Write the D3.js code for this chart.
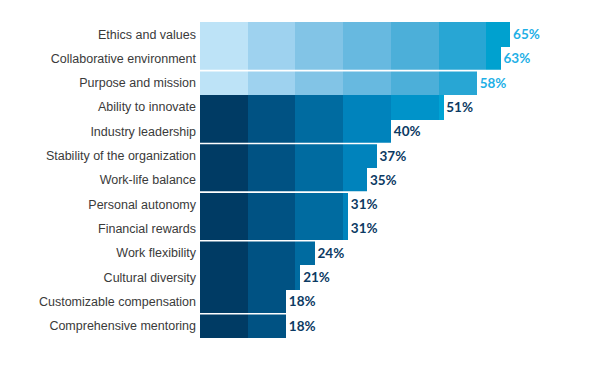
<!DOCTYPE html>
<html><head><meta charset="utf-8">
<script src="https://cdn.jsdelivr.net/npm/d3@7"></script>
<style>body{margin:0;background:#fff;}svg{display:block;}</style>
</head><body>
<svg id="chart" width="603" height="366"></svg>
<script>
const categories = ["Ethics and values","Collaborative environment","Purpose and mission","Ability to innovate","Industry leadership","Stability of the organization","Work-life balance","Personal autonomy","Financial rewards","Work flexibility","Cultural diversity","Customizable compensation","Comprehensive mentoring"];
const values = [65,63,58,51,40,37,35,31,31,24,21,18,18];
const groups = ["light","light","light","dark","dark","dark","dark","dark","dark","dark","dark","dark","dark"];
const bandEdges = [0,10,20,30,40,50,60,70];
const lightShades = ["#bde3f7","#9ed2ef","#82c4e6","#67b9e0","#4cafd9","#28a6d4","#00a1cf"];
const darkShades = ["#003b64","#005283","#006ba0","#0083bc","#0093c9","#00a3d4","#00a8d8"];
const separatorsAfter = [1,4,6,8,11];

const svg = d3.select("#chart");
const x = d3.scaleLinear().domain([0,100]).range([200,677]);
const y = d3.scaleBand().domain(categories).range([22,338]).padding(0);

const segs = [];
categories.forEach((c,i)=>{
  for(let b=0;b<bandEdges.length-1;b++){
    const s=bandEdges[b], e=Math.min(bandEdges[b+1],values[i]);
    if(e>s) segs.push({c, s, e, color:(groups[i]==="light"?lightShades:darkShades)[b]});
  }
});
svg.append("g").selectAll("rect").data(segs).join("rect")
  .attr("x",d=>x(d.s)).attr("width",d=>x(d.e)-x(d.s)+0.3)
  .attr("y",d=>y(d.c)).attr("height",y.bandwidth()+0.3)
  .attr("fill",d=>d.color).attr("shape-rendering","crispEdges");

svg.append("g").selectAll("line").data(separatorsAfter).join("line")
  .attr("x1",x(0)).attr("x2",x(70))
  .attr("y1",i=>y(categories[i])+y.bandwidth()).attr("y2",i=>y(categories[i])+y.bandwidth())
  .attr("stroke","#fff").attr("stroke-width",1.6);

svg.append("g").selectAll("text").data(categories).join("text")
  .attr("x",196).attr("y",d=>y(d)+y.bandwidth()/2).attr("dy","0.35em")
  .attr("text-anchor","end").attr("font-family","'Liberation Sans', Arial, sans-serif")
  .attr("font-size",12.5).attr("fill","#3a3a3a").text(d=>d);

svg.append("g").selectAll("text").data(categories).join("text")
  .attr("x",(d,i)=>x(values[i])+3).attr("y",d=>y(d)+y.bandwidth()/2).attr("dy","0.36em")
  .attr("font-family","Lato, 'Open Sans', sans-serif").attr("font-weight",700)
  .attr("font-size",13.5).attr("fill",(d,i)=>groups[i]==="light"?"#1fb0e6":"#0c3a63")
  .text((d,i)=>values[i]+"%");
</script>
</body></html>
